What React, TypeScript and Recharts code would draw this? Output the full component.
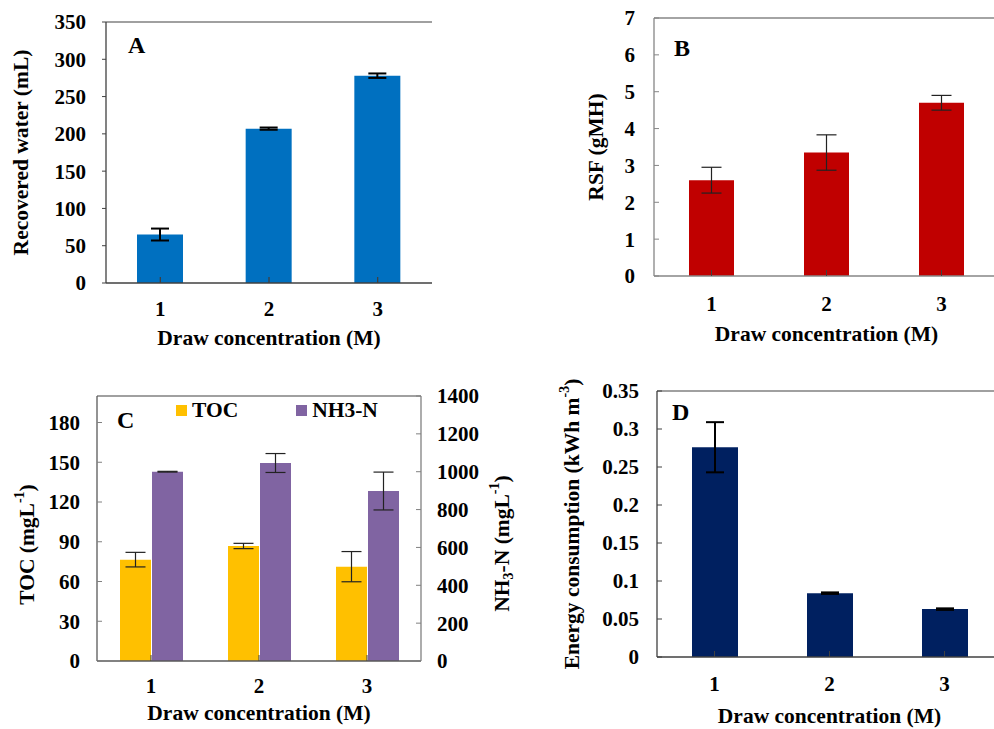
import React from 'react';
import { BarChart, Bar, XAxis, YAxis, ErrorBar, Label, ReferenceLine, Legend } from 'recharts';

const FONT = '"Liberation Serif", "Times New Roman", Times, serif';
const TICK_FS = 21;
const TITLE_FS = 21.5;

const categories = ['1', '2', '3'];
const recoveredWater = [65, 207, 278];
const recoveredWaterErr = [8, 1.5, 3];
const rsf = [2.6, 3.35, 4.7];
const rsfErr = [0.35, 0.48, 0.2];
const toc = [76.5, 86.8, 71.2];
const tocErr = [5.5, 2, 11.4];
const nh3n = [1000, 1046, 898];
const nh3nErr = [2, 50, 100];
const energy = [0.276, 0.084, 0.063];
const energyErr = [0.033, 0.001, 0.001];
const seriesNamesC = ['TOC', 'NH3-N'];

const ticksA = [0, 50, 100, 150, 200, 250, 300, 350];
const ticksB = [0, 1, 2, 3, 4, 5, 6, 7];
const ticksCLeft = [0, 30, 60, 90, 120, 150, 180];
const ticksCRight = [0, 200, 400, 600, 800, 1000, 1200, 1400];
const ticksD = [0, 0.05, 0.1, 0.15, 0.2, 0.25, 0.3, 0.35];

const dataA = categories.map((c, i) => ({ cat: c, v: recoveredWater[i], e: recoveredWaterErr[i] }));
const dataB = categories.map((c, i) => ({ cat: c, v: rsf[i], e: rsfErr[i] }));
const dataC = categories.map((c, i) => ({ cat: c, toc: toc[i], tocE: tocErr[i], nh: nh3n[i], nhE: nh3nErr[i] }));
const dataD = categories.map((c, i) => ({ cat: c, v: energy[i], e: energyErr[i] }));

const textStyle = { fontFamily: FONT, fontWeight: 700 } as any;
const tickStyle = { fill: '#000', fontSize: TICK_FS, fontWeight: 'bold', fontFamily: FONT, style: textStyle } as any;

type Part = { t: string; s?: 'sup' | 'sub' };
const renderParts = (ps: Part[]) => {
  let shift = 0;
  return ps.map((p, i) => {
    const target = p.s === 'sup' ? -8 : p.s === 'sub' ? 6 : 0;
    const dy = target - shift;
    shift = target;
    return (
      <tspan key={i} dy={dy} fontSize={p.s ? 14 : TITLE_FS}>
        {p.t}
      </tspan>
    );
  });
};

const vTitle = (ps: Part[], dx: number, dyc = 0) => (props: any) => {
  const vb = props.viewBox;
  const cx = vb.x + dx;
  const cy = vb.y + vb.height / 2 + dyc;
  return (
    <text x={cx} y={cy} transform={`rotate(-90 ${cx} ${cy})`} textAnchor="middle" dominantBaseline="central"
      style={textStyle} fontSize={TITLE_FS} fill="#000">
      {renderParts(ps)}
    </text>
  );
};

const hTitle = (text: string, dy: number) => (props: any) => {
  const vb = props.viewBox;
  const cx = vb.x + vb.width / 2;
  const cy = vb.y + dy;
  return (
    <text x={cx} y={cy} textAnchor="middle" dominantBaseline="central" style={textStyle} fontSize={TITLE_FS} fill="#000">
      {text}
    </text>
  );
};

const letter = (ch: string, dx: number, dy: number) => (props: any) => {
  const vb = props.viewBox;
  return (
    <text x={vb.x + vb.width + dx} y={vb.y + dy} style={textStyle} fontSize={24} fill="#000">
      {ch}
    </text>
  );
};

const legendContent = (props: any) => {
  const items = [...(props.payload || [])].sort(
    (a: any, b: any) => seriesNamesC.indexOf(a.value) - seriesNamesC.indexOf(b.value)
  );
  return (
    <div style={{ display: 'flex', alignItems: 'center', fontFamily: FONT, fontWeight: 'bold', fontSize: TITLE_FS, lineHeight: '25px', color: '#000' }}>
      {items.map((p: any, i: number) => (
        <div key={i} style={{ display: 'flex', alignItems: 'center', marginRight: 58 }}>
          <span style={{ width: 11, height: 11, background: p.color, marginRight: 5, display: 'inline-block' }} />
          <span>{p.value}</span>
        </div>
      ))}
    </div>
  );
};

export default function App() {
  return (
    <div style={{ position: 'absolute', left: 0, top: 0, width: 994, height: 729, overflow: 'hidden', background: '#fff', fontFamily: FONT }}>
      {/* Panel A */}
      <div style={{ position: 'absolute', left: 0, top: 0 }}>
        <BarChart width={500} height={360} data={dataA} margin={{ top: 22, right: 68, left: 0, bottom: 0 }} style={textStyle}>
          <XAxis dataKey="cat" height={77} tickSize={-6} tickMargin={24} tick={tickStyle}
            axisLine={{ stroke: '#404040', strokeWidth: 1.3 }} tickLine={{ stroke: '#404040', strokeWidth: 1.3 }}>
            <Label content={hTitle('Draw concentration (M)', 55)} />
          </XAxis>
          <YAxis yAxisId="l" width={106} domain={[0, 350]} ticks={ticksA} interval={0} tickSize={4} tickMargin={16}
            tick={tickStyle} axisLine={{ stroke: '#404040', strokeWidth: 1.3 }} tickLine={{ stroke: '#404040' }}>
            <Label content={vTitle([{ t: 'Recovered water (mL)' }], 21)} />
            <Label content={letter('A', 22, 31)} />
          </YAxis>
          <YAxis yAxisId="r" orientation="right" width={0} domain={[0, 350]} tick={false} tickLine={false}
            axisLine={{ stroke: '#808080', strokeWidth: 1.3 }} />
          <ReferenceLine yAxisId="l" y={350} stroke="#808080" strokeWidth={1.3} />
          <Bar yAxisId="l" dataKey="v" fill="#0070C0" barSize={46} isAnimationActive={false}>
            <ErrorBar dataKey="e" width={9} stroke="#000" strokeWidth={2} isAnimationActive={false} />
          </Bar>
        </BarChart>
      </div>

      {/* Panel B */}
      <div style={{ position: 'absolute', left: 520, top: 0 }}>
        <BarChart width={500} height={360} data={dataB} margin={{ top: 18, right: 21, left: 0, bottom: 0 }} style={textStyle}>
          <XAxis dataKey="cat" height={84} tickSize={-6} tickMargin={26} tick={tickStyle}
            axisLine={{ stroke: '#868686', strokeWidth: 1.3 }} tickLine={{ stroke: '#404040' }}>
            <Label content={hTitle('Draw concentration (M)', 57.5)} />
          </XAxis>
          <YAxis width={134} domain={[0, 7]} ticks={ticksB} interval={0} tickSize={-5} tickMargin={24}
            tick={tickStyle} axisLine={{ stroke: '#868686', strokeWidth: 1.3 }} tickLine={{ stroke: '#868686' }}>
            <Label content={vTitle([{ t: 'RSF (gMH)' }], 76)} />
            <Label content={letter('B', 20, 38)} />
          </YAxis>
          <ReferenceLine y={7} stroke="#868686" strokeWidth={1.3} />
          <Bar dataKey="v" fill="#C00000" barSize={45} isAnimationActive={false}>
            <ErrorBar dataKey="e" width={10} stroke="#222" strokeWidth={1.2} isAnimationActive={false} />
          </Bar>
        </BarChart>
      </div>

      {/* Panel C */}
      <div style={{ position: 'absolute', left: 0, top: 360 }}>
        <BarChart width={540} height={369} data={dataC} margin={{ top: 36, right: 0, left: 0, bottom: 0 }} barGap={1} style={textStyle}>
          <XAxis dataKey="cat" height={68} tickSize={-6} tickMargin={23} tick={tickStyle}
            axisLine={{ stroke: '#595959', strokeWidth: 1.3 }} tickLine={{ stroke: '#404040' }}>
            <Label content={hTitle('Draw concentration (M)', 51.5)} />
          </XAxis>
          <YAxis yAxisId="l" width={97} domain={[0, 200]} ticks={ticksCLeft} interval={0} tickSize={-5} tickMargin={22}
            tick={tickStyle} axisLine={{ stroke: '#595959', strokeWidth: 1.3 }} tickLine={{ stroke: '#808080' }}>
            <Label content={vTitle([{ t: 'TOC (mgL' }, { t: '-1', s: 'sup' }, { t: ')' }], 27, 16)} />
            <Label content={letter('C', 20, 32)} />
          </YAxis>
          <YAxis yAxisId="r" orientation="right" width={119} domain={[0, 1400]} ticks={ticksCRight} interval={0}
            tickSize={-5} tickMargin={21} tick={tickStyle} axisLine={{ stroke: '#808080', strokeWidth: 1.3 }}
            tickLine={{ stroke: '#808080' }}>
            <Label content={vTitle([{ t: 'NH' }, { t: '3', s: 'sub' }, { t: '-N (mgL' }, { t: '-1', s: 'sup' }, { t: ')' }], 81, 15)} />
          </YAxis>
          <ReferenceLine yAxisId="l" y={200} stroke="#808080" strokeWidth={1.3} />
          <Legend layout="horizontal" verticalAlign="middle" align="center"
            wrapperStyle={{ top: 38, left: 176, width: 320 }} content={legendContent} />
          <Bar yAxisId="l" dataKey="toc" name="TOC" fill="#FFC000" barSize={31} isAnimationActive={false}>
            <ErrorBar dataKey="tocE" width={10} stroke="#222" strokeWidth={1.2} isAnimationActive={false} />
          </Bar>
          <Bar yAxisId="r" dataKey="nh" name="NH3-N" fill="#8064A2" barSize={31} isAnimationActive={false}>
            <ErrorBar dataKey="nhE" width={10} stroke="#222" strokeWidth={1.2} isAnimationActive={false} />
          </Bar>
        </BarChart>
      </div>

      {/* Panel D */}
      <div style={{ position: 'absolute', left: 540, top: 360 }}>
        <BarChart width={480} height={369} data={dataD} margin={{ top: 31, right: 18, left: 0, bottom: 0 }} style={textStyle}>
          <XAxis dataKey="cat" height={72} tickSize={-6} tickMargin={25} tick={tickStyle}
            axisLine={{ stroke: '#404040', strokeWidth: 1.3 }} tickLine={{ stroke: '#404040' }}>
            <Label content={hTitle('Draw concentration (M)', 58.7)} />
          </XAxis>
          <YAxis width={117} domain={[0, 0.35]} ticks={ticksD} interval={0} tickSize={-5} tickMargin={23}
            tick={tickStyle} axisLine={{ stroke: '#404040', strokeWidth: 1.3 }} tickLine={{ stroke: '#404040' }}>
            <Label content={vTitle([{ t: 'Energy consumption (kWh m' }, { t: '-3', s: 'sup' }, { t: ')' }], 32)} />
            <Label content={letter('D', 15, 29)} />
          </YAxis>
          <ReferenceLine y={0.35} stroke="#808080" strokeWidth={1.3} />
          <Bar dataKey="v" fill="#002060" barSize={46} isAnimationActive={false}>
            <ErrorBar dataKey="e" width={9} stroke="#000" strokeWidth={2} isAnimationActive={false} />
          </Bar>
        </BarChart>
      </div>
    </div>
  );
}
